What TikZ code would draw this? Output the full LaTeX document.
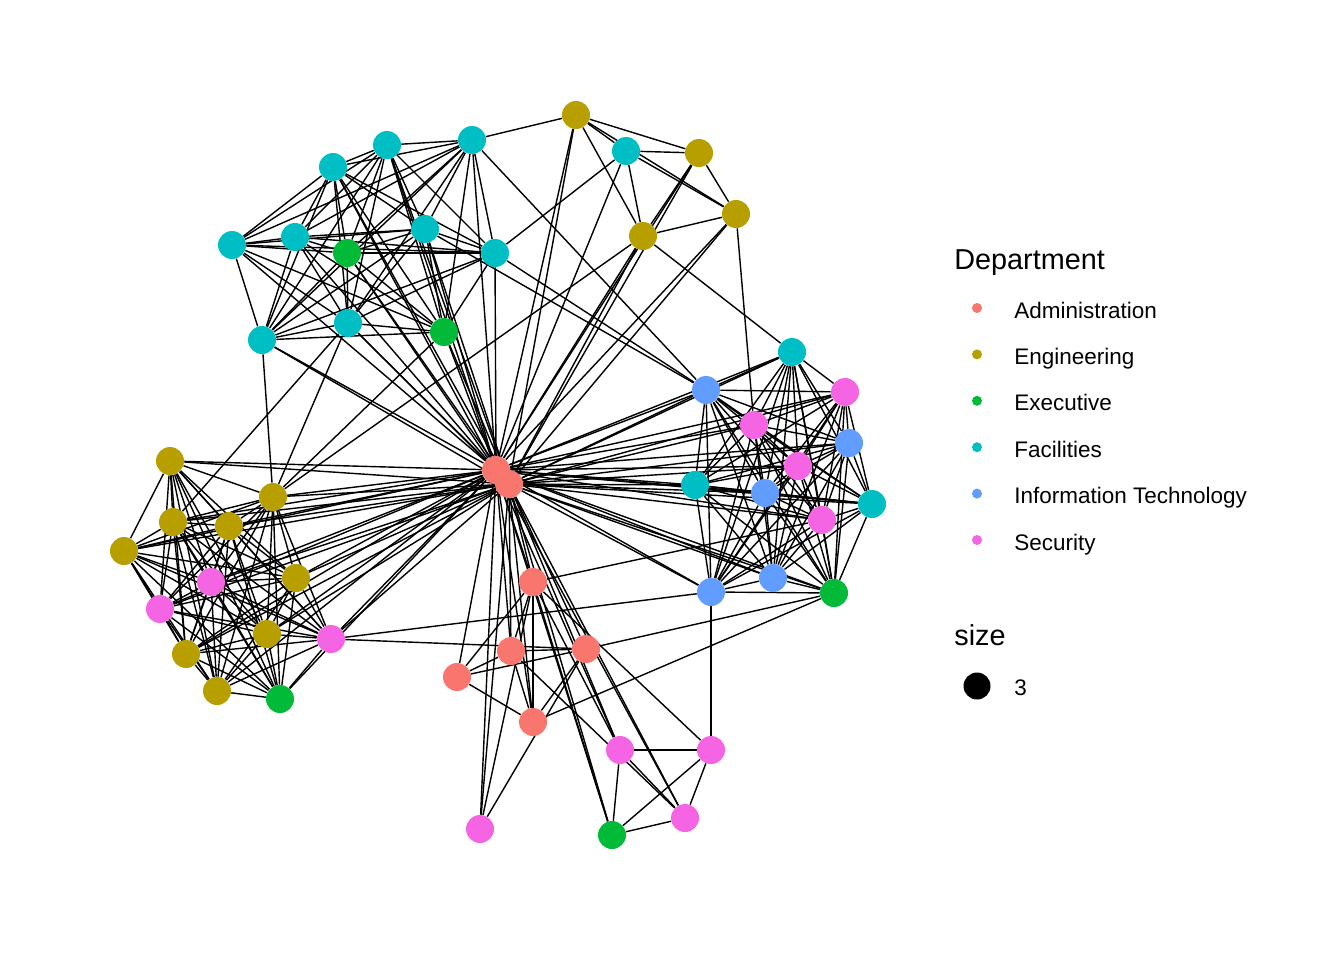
\documentclass[tikz,border=0pt]{standalone}
\usepackage{fontspec}
\setmainfont{Liberation Sans}
\usetikzlibrary{backgrounds}
\definecolor{cadm}{HTML}{F8766D}
\definecolor{ceng}{HTML}{B79F00}
\definecolor{cexe}{HTML}{00BA38}
\definecolor{cfac}{HTML}{00BFC4}
\definecolor{cits}{HTML}{619CFF}
\definecolor{csec}{HTML}{F564E3}
\tikzset{
  vtx/.style={circle, inner sep=0pt, minimum size=0.56cm},
  adm/.style={vtx, fill=cadm},
  eng/.style={vtx, fill=ceng},
  exe/.style={vtx, fill=cexe},
  fac/.style={vtx, fill=cfac},
  its/.style={vtx, fill=cits},
  sec/.style={vtx, fill=csec},
  link/.style={line width=0.8pt, black},
  keydot/.style={circle, inner sep=0pt, minimum size=0.2cm},
  keytext/.style={anchor=base west, inner sep=0pt, font=\fontsize{12.8}{14}\selectfont},
  keytitle/.style={anchor=base west, inner sep=0pt, font=\fontsize{16.4}{18}\selectfont},
}
% every pair of a group
\newcommand{\fullmesh}[1]{%
  \foreach \u [count=\i] in {#1} {
    \foreach \v [count=\j] in {#1} {
      \ifnum\j>\i \draw[link] (\u) -- (\v); \fi
    }
  }
}
\begin{document}
\begin{tikzpicture}[x=0.02cm, y=-0.02cm]
\useasboundingbox (0,0) rectangle (1344,960);

% facilities
\node[fac] (f1) at (387,145) {};
\node[fac] (f2) at (472,140) {};
\node[fac] (f3) at (333,167) {};
\node[fac] (f4) at (232,245) {};
\node[fac] (f5) at (295,237) {};
\node[fac] (f6) at (425,229) {};
\node[fac] (f7) at (495,253) {};
\node[fac] (f8) at (262,340) {};
\node[fac] (f9) at (348,323) {};
\node[fac] (f10) at (626,151) {};
\node[fac] (f11) at (695,485) {};
\node[fac] (f12) at (792,352) {};
\node[fac] (f13) at (872,504) {};
% engineering
\node[eng] (e1) at (576,115) {};
\node[eng] (e2) at (699,153) {};
\node[eng] (e3) at (736,214) {};
\node[eng] (e4) at (643,236) {};
\node[eng] (e5) at (170,461) {};
\node[eng] (e6) at (273,497) {};
\node[eng] (e7) at (173,522) {};
\node[eng] (e8) at (229,526) {};
\node[eng] (e9) at (124,551) {};
\node[eng] (e10) at (296,578) {};
\node[eng] (e11) at (267,634) {};
\node[eng] (e12) at (186,654) {};
\node[eng] (e13) at (217,691) {};
% executive
\node[exe] (x1) at (347,253) {};
\node[exe] (x2) at (444,332) {};
\node[exe] (x3) at (280,699) {};
\node[exe] (x4) at (834,593) {};
\node[exe] (x5) at (612,835) {};
% information technology
\node[its] (i1) at (706,390) {};
\node[its] (i2) at (849,443) {};
\node[its] (i3) at (765,493) {};
\node[its] (i4) at (711,592) {};
\node[its] (i5) at (773,578) {};
% security
\node[sec] (s1) at (845,392) {};
\node[sec] (s2) at (754,425) {};
\node[sec] (s3) at (798,466) {};
\node[sec] (s4) at (822,520) {};
\node[sec] (s5) at (211,582) {};
\node[sec] (s6) at (160,609) {};
\node[sec] (s7) at (331,639) {};
\node[sec] (s8) at (620,750) {};
\node[sec] (s9) at (711,750) {};
\node[sec] (s10) at (685,818) {};
\node[sec] (s11) at (480,829) {};
% administration
\node[adm] (a3) at (533,582) {};
\node[adm] (a4) at (511,651) {};
\node[adm] (a5) at (586,649) {};
\node[adm] (a6) at (457,677) {};
\node[adm] (a7) at (533,722) {};
\node[adm] (a1) at (496,470) {};
\node[adm] (a2) at (509,484) {};

\begin{pgfonlayer}{background}
% dense groups
\fullmesh{f1,f2,f3,f4,f5,f6,f7,f8,f9,x1,x2}
\fullmesh{e1,e2,e3,e4,f10}
\fullmesh{e5,e6,e7,e8,e9,e10,e11,e12,e13,s5,s6,s7,x3}
\fullmesh{i1,i2,i3,i4,i5,s1,s2,s3,s4,f11,f12,f13,x4}
\fullmesh{s8,s9,s10,x5}
% hub
\foreach \v in {f1,f2,f3,f4,f5,f6,f7,f8,f9,f10,f11,f12,f13,
  e1,e2,e3,e4,e5,e6,e7,e8,e9,e10,e11,e12,e13,x1,x2,x3,x4,x5,
  i1,i2,i3,i4,i5,s1,s2,s3,s4,s5,s6,s7,s8,s10,s11,a2,a3,a4,a6,a7}
  \draw[link] (a1) -- (\v);
\foreach \v in {f1,f3,f6,f8,f9,f11,f12,f13,e1,e2,e3,e4,e5,e6,e7,e8,e9,e10,
  e11,e12,x1,x2,x4,x5,i1,i2,i3,i4,i5,s1,s2,s3,s4,s5,s6,s7,s8,s10,s11,a3,a4,a5,a7}
  \draw[link] (a2) -- (\v);
% bridges
\foreach \u/\v in {f2/e1, f7/f10, f2/i1, f7/i1, f6/i1, e4/f12, e4/e6, e3/s2,
  f8/e6, f9/e6, f9/e7, x2/e6,
  s7/i4, s7/a5, a5/x4, a7/x4, a3/s4, a3/a4, a3/a6, a4/a5, a4/a6, a4/a7,
  a5/a6, a5/a7, a6/a7, a3/a7, s9/i4, s11/a5, s11/a3, x5/a3, s8/a3, s10/a4, s9/a3}
  \draw[link] (\u) -- (\v);
\end{pgfonlayer}

% legend
\node[keytitle] (dept) at (954,269) {Department};
\foreach \c/\t [count=\k] in {cadm/Administration, ceng/Engineering,
  cexe/Executive, cfac/Facilities, cits/Information Technology, csec/Security}{
  \node[keydot, fill=\c] (k\k) at (977,261.6+46.4*\k) {};
  \node[keytext] (t\k) at (1014,271.6+46.4*\k) {\t};
}
\node[keytitle] (sz) at (954,645) {size};
\node[circle, inner sep=0pt, minimum size=0.54cm, fill=black] (szdot) at (977,686) {};
\node[keytext] (szval) at (1014,695) {3};
\end{tikzpicture}
\end{document}
